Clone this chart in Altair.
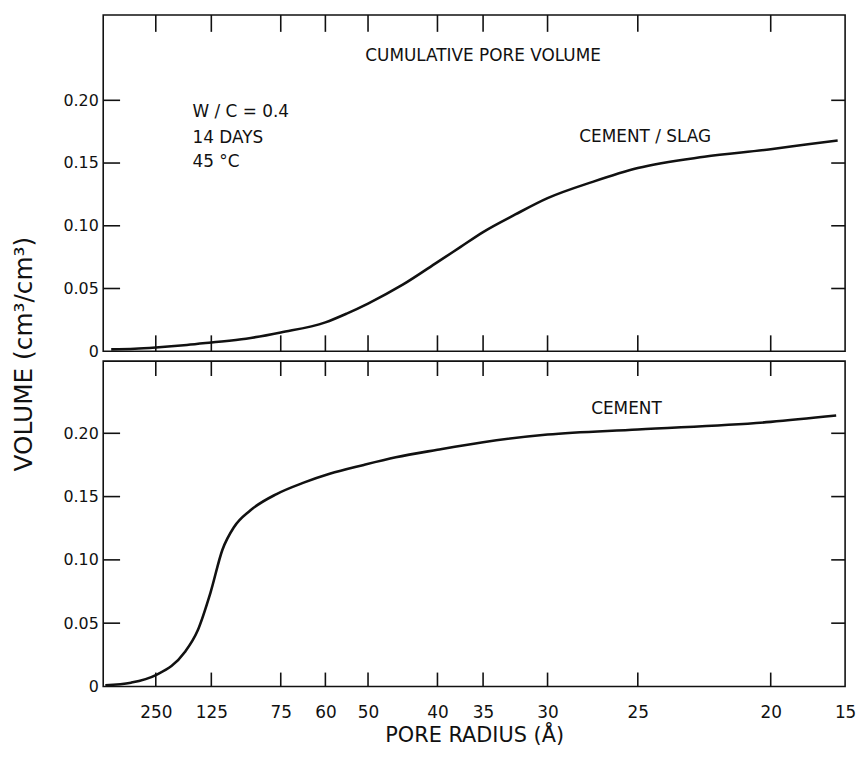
import altair as alt
import numpy as np
import pandas as pd

# ---- data ----
radius_ticks = [250, 125, 75, 60, 50, 40, 35, 30, 25, 20, 15]
volume_ticks = [0, 0.05, 0.10, 0.15, 0.20]

slag_radius = [462, 350, 250, 180, 125, 100, 75, 60, 55, 50, 45, 40, 37.5, 35, 32.5, 30, 27.5, 25, 22.5, 20, 17.5, 15.5]
slag_volume = [0.0015, 0.002, 0.003, 0.005, 0.007, 0.010, 0.015, 0.023, 0.030, 0.038, 0.053, 0.071, 0.083, 0.095,
               0.109, 0.122, 0.135, 0.146, 0.155, 0.161, 0.165, 0.168]

cement_radius = [490, 368, 250, 185, 156, 127, 117, 108.6, 97, 78, 67.3, 59, 51, 46, 40, 35, 30, 25, 20, 15.6]
cement_volume = [0.001, 0.003, 0.009, 0.027, 0.044, 0.074, 0.108, 0.126, 0.139, 0.152, 0.161, 0.168, 0.175, 0.181,
                 0.187, 0.193, 0.199, 0.203, 0.209, 0.214]

# ---- layout / styling ----
W = 748
H1 = 339
H2 = 328
FONT = "DejaVu Sans"
INK = "#111111"

# piecewise radius axis as drawn on the original figure
x_domain_stops = [15, 20, 25, 30, 35, 40, 50, 60, 75, 125, 250, 500]
x_range_stops = [W, 673, 539, 448, 383, 337, 267, 224, 179, 109, 53, 0]
xscale = alt.Scale(domain=x_domain_stops, range=x_range_stops, nice=False, zero=False)


def px_to_r(px):
    return float(np.interp(px, x_range_stops[::-1], x_domain_stops[::-1]))


inner_vticks = [v for v in volume_ticks if v > 0]
ylabel_expr = "datum.value == 0 ? '0' : format(datum.value, '.2f')"

ylab = alt.Axis(orient="left", values=volume_ticks, labelExpr=ylabel_expr, ticks=False, tickSize=0,
                domain=False, grid=False, title=None, labelFontSize=16, labelPadding=5,
                labelFont=FONT, labelColor=INK)

xlab = alt.Axis(orient="bottom", values=radius_ticks, ticks=False, tickSize=0, domain=False, grid=False,
                labelFontSize=17, labelPadding=18, labelFlush=False, labelOverlap=False,
                labelFont=FONT, labelColor=INK,
                title="PORE  RADIUS (Å)", titleFontSize=21, titlePadding=4, titleFontWeight="normal",
                titleFont=FONT, titleColor=INK)

frame = alt.ViewBackground(stroke=INK, strokeWidth=1.6)


def tick_segments(ytop, H, top_len, bot_len, left_len=17, right_len=14):
    rows = []
    n = 0
    for r in radius_ticks[:-1]:
        for a, b in ((ytop, ytop * (1 - top_len / H)), (0.0, ytop * bot_len / H)):
            rows += [{"id": n, "k": 0, "r": r, "v": a}, {"id": n, "k": 1, "r": r, "v": b}]
            n += 1
    for v in inner_vticks:
        for a, b in ((x_domain_stops[-1], px_to_r(left_len)), (px_to_r(W - right_len), x_domain_stops[0])):
            rows += [{"id": n, "k": 0, "r": a, "v": v}, {"id": n, "k": 1, "r": b, "v": v}]
            n += 1
    return pd.DataFrame(rows)


def panel(radius, volume, ytop, H, texts, x_axis, top_len, bot_len):
    yscale = alt.Scale(domain=[0, ytop], nice=False, zero=True)
    df = pd.DataFrame({"r": radius, "v": volume})
    line = alt.Chart(df).mark_line(color=INK, strokeWidth=2.6, interpolate="monotone").encode(
        x=alt.X("r:Q", scale=xscale, axis=x_axis),
        y=alt.Y("v:Q", scale=yscale, axis=ylab),
    )
    ticks = alt.Chart(tick_segments(ytop, H, top_len, bot_len)).mark_line(color=INK, strokeWidth=1.6).encode(
        x=alt.X("r:Q", scale=xscale, axis=None),
        y=alt.Y("v:Q", scale=yscale, axis=None),
        detail="id:N",
        order="k:Q",
    )
    layers = [line, ticks]
    for t, xp, yp, al in texts:
        layers.append(
            alt.Chart(pd.DataFrame({"t": [t]})).mark_text(
                font=FONT, fontSize=17, color=INK, align=al, baseline="middle"
            ).encode(text="t:N", x=alt.value(xp), y=alt.value(yp))
        )
    return alt.layer(*layers).resolve_axis(x="independent", y="independent").properties(
        width=W, height=H, view=frame)


upper = panel(
    slag_radius, slag_volume, 0.268, H1,
    [
        ("CUMULATIVE  PORE  VOLUME", 383, 41, "center"),
        ("W / C = 0.4", 90, 98, "left"),
        ("14  DAYS", 90, 124, "left"),
        ("45  °C", 90, 148, "left"),
        ("CEMENT / SLAG", 480, 123, "left"),
    ],
    None, 17, 16,
)

lower = panel(
    cement_radius, cement_volume, 0.257, H2,
    [("CEMENT", 492, 48, "left")],
    xlab, 15, 14,
)

chart = alt.vconcat(upper, lower, spacing=10, bounds="flush").properties(
    title=alt.TitleParams("VOLUME  (cm³/cm³)", orient="left", anchor="middle", frame="group", fontSize=25,
                          font=FONT, fontWeight="normal", color=INK, offset=25, dx=-342),
    padding={"left": 4, "top": 0, "right": 0, "bottom": 0},
    background="white",
)

chart.save("out.html", embed_options={"renderer": "svg", "actions": False})
